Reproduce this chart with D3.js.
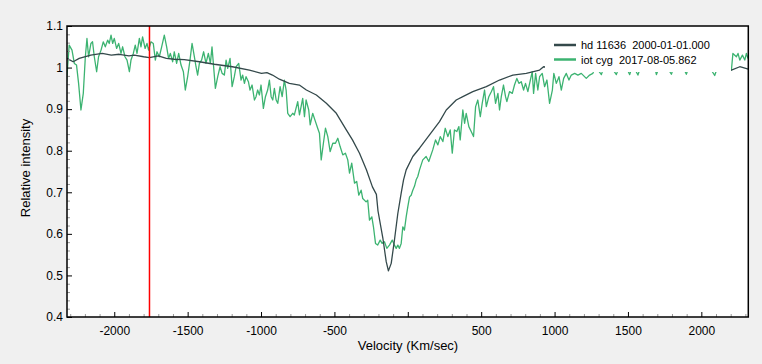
<!DOCTYPE html>
<html><head><meta charset="utf-8">
<script src="https://cdn.jsdelivr.net/npm/d3@7"></script>
<style>body{margin:0;background:#f0f0f0;overflow:hidden}</style>
</head><body><svg id="c" width="762" height="364"></svg>
<script>
// ---- data ----
const xMajorTicks = [-2000,-1500,-1000,-500,0,500,1000,1500,2000];
const xLabelled = [-2000,-1500,-1000,-500,500,1000,1500,2000];
const yMajorTicks = [0.4,0.5,0.6,0.7,0.8,0.9,1.0,1.1];
const markerVelocity = -1760;
const seriesNames = ["hd 11636  2000-01-01.000", "iot cyg  2017-08-05.862"];

const hdV = [-2322,-2280,-2239,-2160,-2082,-2020,-1966,-1900,-1863,-1800,-1761,-1700,-1645,-1590,-1523,-1420,-1318,-1195,-1079,-997,-960,-922,-875,-807,-739,-691,-623,-555,-487,-419,-377,-329,-282,-241,-214,-203,-170,-147,-132,-113,-91,-68,-45,-29,-11,34,80,148,216,262,330,375,443,535,625,716,807,898,925,1000,1200,1400,1600,1800,2000,2150,2205,2262,2320];
const hdI = [1.022,1.014,1.022,1.030,1.034,1.030,1.032,1.028,1.030,1.026,1.024,1.028,1.022,1.020,1.019,1.014,1.008,1.002,0.994,0.986,0.988,0.982,0.972,0.962,0.958,0.946,0.934,0.914,0.890,0.850,0.826,0.794,0.754,0.713,0.695,0.655,0.590,0.533,0.511,0.529,0.585,0.649,0.698,0.730,0.754,0.786,0.806,0.838,0.870,0.898,0.922,0.930,0.942,0.954,0.970,0.982,0.986,0.994,1.002,0.998,1.000,1.002,0.998,1.000,0.998,0.996,0.994,1.002,0.996];

const iotV = [-2325,-2307,-2288,-2272,-2257,-2243,-2227,-2211,-2197,-2186,-2175,-2159,-2148,-2136,-2120,-2107,-2090,-2075,-2061,-2045,-2034,-2022,-2011,-2000,-1984,-1970,-1954,-1943,-1927,-1913,-1897,-1886,-1870,-1857,-1845,-1829,-1818,-1807,-1790,-1777,-1766,-1750,-1734,-1720,-1709,-1693,-1677,-1659,-1643,-1630,-1618,-1602,-1591,-1575,-1561,-1545,-1529,-1516,-1500,-1484,-1470,-1454,-1443,-1432,-1420,-1405,-1391,-1375,-1359,-1345,-1334,-1323,-1311,-1295,-1279,-1265,-1250,-1238,-1227,-1211,-1197,-1182,-1170,-1152,-1136,-1125,-1113,-1102,-1086,-1075,-1061,-1045,-1034,-1023,-1011,-1000,-984,-970,-955,-943,-931,-920,-909,-897,-886,-870,-856,-841,-829,-818,-802,-784,-773,-750,-738,-727,-716,-704,-693,-675,-665,-648,-629,-614,-602,-590,-575,-561,-545,-529,-511,-493,-477,-461,-443,-425,-409,-397,-382,-363,-348,-334,-318,-307,-284,-273,-261,-245,-234,-220,-205,-188,-175,-159,-143,-125,-106,-91,-79,-68,-57,-45,-34,-23,-11,0,12,23,34,46,57,68,80,102,125,143,170,189,205,221,239,255,273,289,303,318,334,348,357,375,387,398,416,432,448,462,477,494,507,523,535,552,569,584,598,614,625,637,652,666,675,693,712,727,743,757,773,789,802,818,835,848,857,871,886,898,916,932,948,966,985,995,1012,1030,1046,1062,1080,1098,1114,1137,1159,1182,1216,1239,1261,1280,1300,1319,1340,1360,1380,1400,1421,1440,1460,1480,1495,1512,1530,1550,1568,1585,1605,1625,1645,1665,1680,1694,1712,1730,1750,1770,1785,1796,1815,1835,1855,1875,1890,1898,1915,1935,1955,1975,1995,2015,2035,2055,2075,2091,2110,2130,2150,2170,2190,2205,2215,2239,2250,2262,2280,2296,2307,2318];
const iotI = [0.966,1.054,1.042,1.010,1.006,0.962,0.898,0.938,1.026,1.070,1.026,1.058,1.062,1.026,0.990,1.026,1.042,1.062,1.050,1.066,1.058,1.078,1.058,1.070,1.046,1.058,1.034,1.050,1.026,1.018,0.990,1.018,1.034,1.054,1.034,1.070,1.050,1.074,1.046,1.058,1.042,1.062,1.058,1.018,1.038,1.026,1.050,1.078,1.050,1.022,1.034,1.014,1.038,1.010,1.034,1.006,0.990,0.946,0.978,1.018,1.058,1.026,1.002,0.982,1.010,1.018,1.038,1.010,1.034,1.010,1.050,1.002,0.950,0.978,1.002,0.986,0.982,1.018,0.998,1.022,0.954,0.978,1.002,1.010,0.970,0.982,0.962,0.978,0.966,0.946,0.958,0.922,0.930,0.946,0.934,0.958,0.902,0.930,0.946,0.970,0.930,0.922,0.950,0.922,0.914,0.954,0.930,0.970,0.946,0.890,0.882,0.890,0.886,0.918,0.886,0.906,0.926,0.882,0.922,0.898,0.862,0.890,0.870,0.854,0.842,0.778,0.818,0.854,0.834,0.798,0.818,0.818,0.830,0.810,0.790,0.794,0.778,0.746,0.770,0.722,0.726,0.693,0.705,0.685,0.677,0.681,0.633,0.641,0.617,0.577,0.573,0.585,0.577,0.581,0.565,0.573,0.585,0.573,0.565,0.573,0.565,0.577,0.617,0.609,0.641,0.665,0.689,0.693,0.705,0.715,0.730,0.738,0.754,0.778,0.786,0.774,0.802,0.826,0.814,0.834,0.822,0.854,0.834,0.850,0.794,0.850,0.846,0.858,0.826,0.898,0.866,0.890,0.858,0.846,0.834,0.906,0.922,0.882,0.914,0.946,0.906,0.930,0.942,0.954,0.914,0.938,0.898,0.930,0.958,0.930,0.918,0.942,0.938,0.958,0.974,0.962,0.966,0.946,0.962,0.942,0.970,0.990,0.938,0.986,0.946,0.978,0.986,0.954,0.970,0.914,0.946,0.986,0.962,0.978,0.946,0.974,0.986,0.970,0.982,0.986,0.982,0.986,0.974,0.982,0.986,1.004,0.992,0.983,1.006,0.996,1.012,0.994,0.983,1.002,0.992,1.010,0.996,0.983,1.004,0.994,0.982,1.000,1.012,0.996,1.008,0.992,1.004,0.983,1.000,1.014,0.996,1.006,0.990,0.984,1.004,0.994,1.010,0.998,0.990,0.984,1.002,1.012,0.996,1.006,0.992,1.008,0.998,1.010,0.990,0.981,1.000,1.012,0.996,1.006,0.998,0.994,1.034,1.026,1.034,1.018,1.030,1.018,1.034,1.022];

// ---- layout ----
const W = 762, H = 364;
const L = 67, R = 748.3, T = 26, B = 317;
const svg = d3.select("#c");
svg.append("rect").attr("width", W).attr("height", H).attr("fill", "#f0f0f0");
svg.append("rect").attr("x", L).attr("y", T).attr("width", R - L).attr("height", B - T).attr("fill", "#fff");

const x = d3.scaleLinear().domain([-2322, 2320]).range([L, R]);
const y = d3.scaleLinear().domain([0.4, 1.1]).range([B, T]);

const font = "'Liberation Sans', Arial, sans-serif";

svg.append("clipPath").attr("id", "clip").append("rect").attr("x", L).attr("y", T).attr("width", R - L).attr("height", B - T);
const plot = svg.append("g").attr("clip-path", "url(#clip)");

const line = d3.line().x(d => x(d[0])).y(d => y(d[1]));
plot.append("path").datum(iotV.map((v, i) => [v, iotI[i]]))
  .attr("d", line).attr("fill", "none").attr("stroke", "#3cb371").attr("stroke-width", 1.3).attr("stroke-linejoin", "round");
plot.append("path").datum(hdV.map((v, i) => [v, hdI[i]]))
  .attr("d", line).attr("fill", "none").attr("stroke", "#34494b").attr("stroke-width", 1.3).attr("stroke-linejoin", "round");

plot.append("line").attr("x1", x(markerVelocity)).attr("x2", x(markerVelocity)).attr("y1", T).attr("y2", B)
  .attr("stroke", "#ff0000").attr("stroke-width", 1.5);

// legend (opaque box)
const lg = svg.append("g");
lg.append("rect").attr("x", 545).attr("y", T + 1).attr("width", 186).attr("height", 72 - T - 1).attr("fill", "#fff");
const lColors = ["#34494b", "#3cb371"];
seriesNames.forEach((n, i) => {
  const yy = 45 + i * 14.5;
  lg.append("line").attr("x1", 554).attr("x2", 576).attr("y1", yy).attr("y2", yy).attr("stroke", lColors[i]).attr("stroke-width", 2.5);
  lg.append("text").attr("x", 581).attr("y", yy + 4).attr("font-family", font).attr("font-size", 11).attr("fill", "#000")
    .attr("xml:space", "preserve").style("white-space", "pre").text(n);
});

// minor ticks
const xMinor = d3.range(-2300, 2301, 100).filter(v => v % 500 !== 0);
const yMinor = d3.range(0, 36).map(i => +(0.4 + i * 0.02).toFixed(2)).filter(v => Math.round(v * 100) % 10 !== 0);

svg.append("g").attr("transform", `translate(0,${B})`)
  .call(d3.axisBottom(x).tickValues(xMinor).tickSizeInner(-3).tickSizeOuter(0).tickFormat(""))
  .call(g => g.select(".domain").remove())
  .call(g => g.selectAll("line").attr("stroke", "#999"));
svg.append("g").attr("transform", `translate(${L},0)`)
  .call(d3.axisLeft(y).tickValues(yMinor).tickSizeInner(-3).tickSizeOuter(0).tickFormat(""))
  .call(g => g.select(".domain").remove())
  .call(g => g.selectAll("line").attr("stroke", "#999"));

const xa = svg.append("g").attr("transform", `translate(0,${B})`)
  .call(d3.axisBottom(x).tickValues(xMajorTicks).tickSizeInner(-5).tickSizeOuter(0).tickPadding(9)
    .tickFormat(d => xLabelled.includes(d) ? String(d) : ""));
xa.select(".domain").remove();
xa.selectAll("line").attr("stroke", "#000");
xa.selectAll("text").attr("font-family", font).attr("font-size", 12).attr("fill", "#000");

const ya = svg.append("g").attr("transform", `translate(${L},0)`)
  .call(d3.axisLeft(y).tickValues(yMajorTicks).tickSizeInner(-5).tickSizeOuter(0).tickPadding(4)
    .tickFormat(d => String(+d.toFixed(1))));
ya.select(".domain").remove();
ya.selectAll("line").attr("stroke", "#000");
ya.selectAll("text").attr("font-family", font).attr("font-size", 12).attr("fill", "#000");

svg.append("rect").attr("x", L).attr("y", T).attr("width", R - L).attr("height", B - T)
  .attr("fill", "none").attr("stroke", "#000").attr("stroke-width", 1.5);

svg.append("text").attr("x", 408).attr("y", 350).attr("text-anchor", "middle")
  .attr("font-family", font).attr("font-size", 13).attr("fill", "#000").text("Velocity (Km/sec)");
svg.append("text").attr("transform", "translate(30,168) rotate(-90)").attr("text-anchor", "middle")
  .attr("font-family", font).attr("font-size", 13).attr("fill", "#000").text("Relative intensity");
</script></body></html>
